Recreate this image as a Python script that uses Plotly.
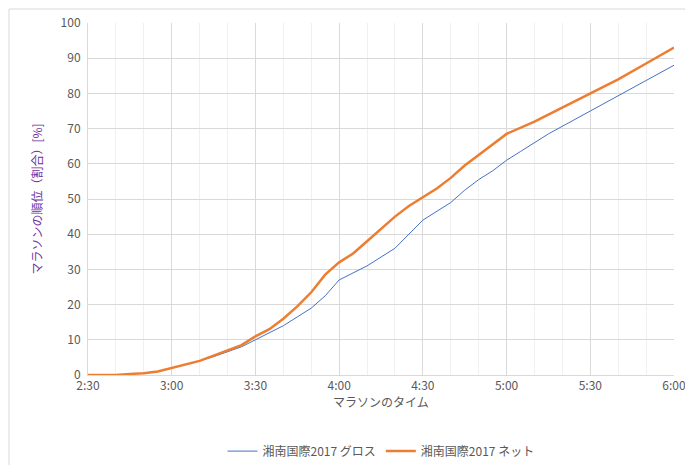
import plotly.graph_objects as go

t_net = [150,160,165,170,175,180,185,190,195,200,205,210,215,220,225,230,235,240,245,250,255,260,265,270,275,280,285,290,295,300,310,320,330,340,350,360]
v_net = [0,0,0.3,0.5,1,2,2.8,4,5.5,7,8.5,11,13,16,19.5,23.5,28.5,32,34.5,38,41.5,45,48,50.5,53,56,59.5,62.5,65.5,68.5,72,76,80,84,88.5,93]
t_gross = [150,160,165,170,175,180,185,190,195,200,205,210,215,220,225,230,235,240,250,255,260,270,280,285,290,295,300,305,315,330,345,360]
v_gross = [0,0,0.3,0.5,1,2,2.8,4,5.2,6.5,8,10,12,14,16.5,19,22.5,27,31,33.5,36,44,49,52.5,55.5,58,61,63.5,68.5,75,81.5,88]
tickvals = [150,180,210,240,270,300,330,360]
ticktext = ["2:30","3:00","3:30","4:00","4:30","5:00","5:30","6:00"]

fig = go.Figure()
fig.add_trace(go.Scatter(x=t_gross, y=v_gross, mode="lines", name="湘南国際2017 グロス",
                         line=dict(color="#4472C4", width=1)))
fig.add_trace(go.Scatter(x=t_net, y=v_net, mode="lines", name="湘南国際2017 ネット",
                         line=dict(color="#ED7D31", width=2.5)))
font = "Noto Sans CJK JP"
fig.update_layout(
    width=693, height=465, paper_bgcolor="white", plot_bgcolor="white",
    margin=dict(l=80, r=27, t=15, b=98, autoexpand=False),
    font=dict(family=font, size=12, color="#595959"),
    legend=dict(orientation="h", x=0.5, xanchor="center", y=-0.175, yanchor="top"),
    xaxis=dict(range=[150,360], tickvals=tickvals, ticktext=ticktext, showgrid=True,
               gridcolor="#D9D9D9", zeroline=False, showline=True, linecolor="#D9D9D9",
               minor=dict(dtick=10, tick0=150, showgrid=True, gridcolor="#F0F0F0"),
               title=dict(text="マラソンのタイム", font=dict(size=12), standoff=4), ticks=""),
    yaxis=dict(range=[0,100], dtick=10, gridcolor="#D9D9D9", zeroline=False, showline=True,
               linecolor="#D9D9D9", ticklabelstandoff=4,
               title=dict(text="マラソンの順位（割合）[%]", font=dict(size=12, color="#7030A0"))),
    shapes=[dict(type="rect", xref="paper", yref="paper",
                 x0=-79/586, x1=1+26/586, y0=-97/352, y1=1+14/352,
                 line=dict(color="#D9D9D9", width=1))],
)
fig.write_html("out.html")
